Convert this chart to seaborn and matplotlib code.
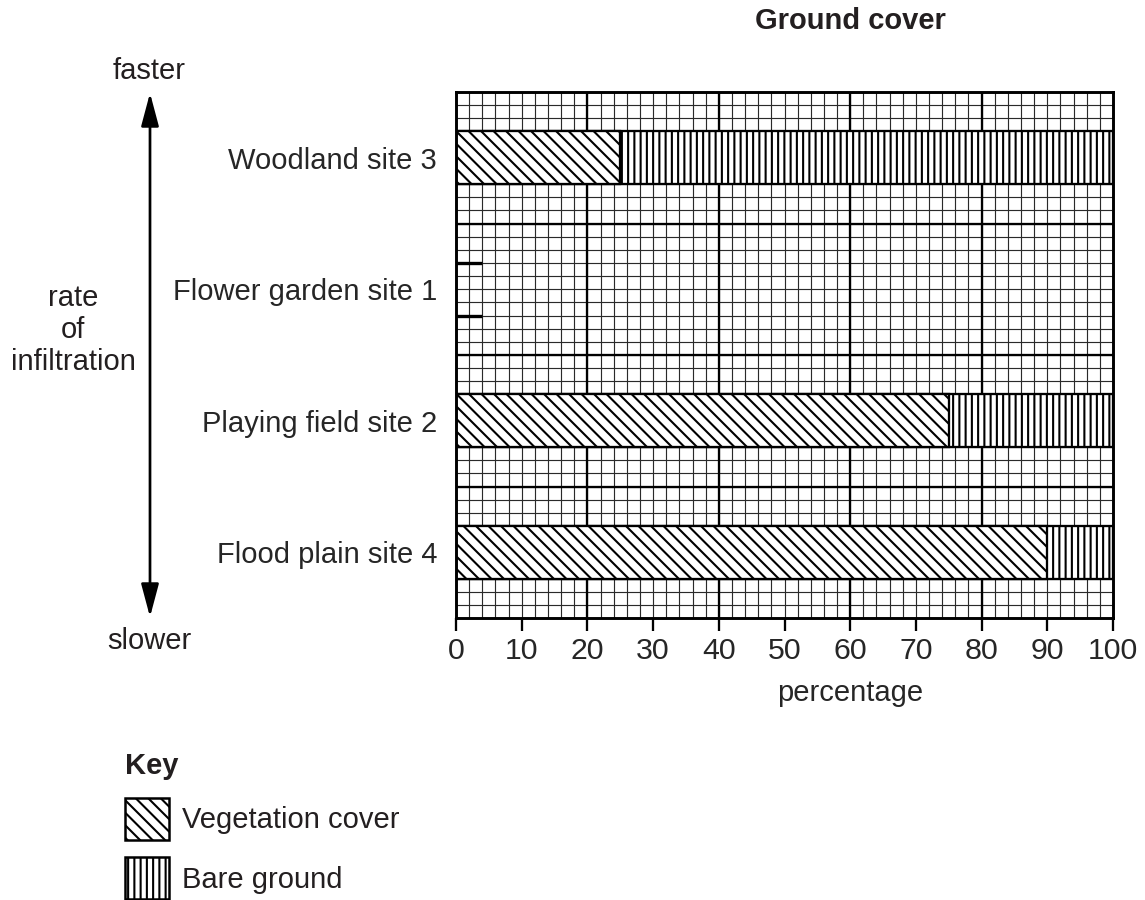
import numpy as np
import pandas as pd
import matplotlib
matplotlib.use('Agg')
import matplotlib.pyplot as plt
from matplotlib.patches import Patch
from matplotlib.ticker import MultipleLocator
import seaborn as sns

# data (flower garden bar is left blank for the student)
sites = ['Woodland site 3', 'Flower garden site 1', 'Playing field site 2', 'Flood plain site 4']
vegetation = [25, np.nan, 75, 90]
bare_ground = [75, np.nan, 25, 10]
flower_outline = 4  # short start of the flower garden bar outline
x_ticks = [0, 10, 20, 30, 40, 50, 60, 70, 80, 90, 100]

VEG_HATCH = '\\\\\\\\'
BARE_HATCH = '||||'

sns.set_style('white')
plt.rcParams['font.family'] = ['Liberation Sans', 'DejaVu Sans']
plt.rcParams['font.size'] = 14
plt.rcParams['hatch.linewidth'] = 1.0
plt.rcParams['text.color'] = '#231f20'

DPI = 150
fig = plt.figure(figsize=(1145 / DPI, 900 / DPI), dpi=DPI)
ax = fig.add_axes([456 / 1145, 1 - 618 / 900, (1113 - 456) / 1145, (618 - 92) / 900])

row_pos = np.arange(len(sites))[::-1] * 10 + 5
df = pd.DataFrame({'site': sites, 'pos': row_pos,
                   'veg': vegetation, 'bare': bare_ground})
df['total'] = df['veg'] + df['bare']
drawn = df.dropna()

# bare ground bar spans the full total, vegetation sits on top of it from 0
sns.barplot(data=drawn, x='total', y='pos', orient='h', native_scale=True,
            width=0.4, color='white', saturation=1, edgecolor='black',
            linewidth=1.1, hatch=BARE_HATCH, errorbar=None, ax=ax)
sns.barplot(data=drawn, x='veg', y='pos', orient='h', native_scale=True,
            width=0.4, color='white', saturation=1, edgecolor='black',
            linewidth=1.1, hatch=VEG_HATCH, errorbar=None, ax=ax)

# outline stub for the blank flower garden bar
fg = df[df['veg'].isna()]
for p in fg['pos']:
    ax.hlines([p - 2, p + 2], 0, flower_outline, colors='black', lw=1.6, zorder=4)

ax.set_xlim(0, 100)
ax.set_ylim(0, 40)

# graph paper
ax.set_axisbelow(True)
ax.xaxis.set_minor_locator(MultipleLocator(2))
ax.yaxis.set_minor_locator(MultipleLocator(1))
ax.xaxis.remove_overlapping_locs = False
ax.yaxis.remove_overlapping_locs = False
ax.grid(False, which='major')
ax.grid(True, which='minor', color='#2a2a2a', lw=0.55)
for v in range(20, 100, 20):
    ax.axvline(v, color='black', lw=1.1, zorder=0.6)
for h in range(10, 40, 10):
    ax.axhline(h, color='black', lw=1.1, zorder=0.6)

ax.set_xticks(x_ticks)
ax.set_xticklabels([str(t) for t in x_ticks])
ax.set_yticks(row_pos)
ax.set_yticklabels(sites)
ax.tick_params(axis='x', which='major', length=6, width=1.1, color='black',
               pad=3, labelsize=14.5, direction='out', bottom=True)
ax.tick_params(axis='y', which='major', length=0, pad=9, labelsize=14)
ax.tick_params(which='minor', length=0)
for s in ax.spines.values():
    s.set_visible(True)
    s.set_color('black')
    s.set_linewidth(1.4)

ax.set_ylabel('')
ax.set_xlabel('percentage', fontsize=14)
ax.xaxis.label.set_va('center')
ax.xaxis.set_label_coords(0.6, (618 - 693) / 526)

fig.text(850 / 1145, 1 - 21 / 900, 'Ground cover', ha='center', va='center',
         fontsize=14, weight='bold')

# rate of infiltration arrow on the left
ax.annotate('', xy=(150 / 1145, 1 - 93 / 900), xytext=(150 / 1145, 1 - 617 / 900),
            xycoords='figure fraction', textcoords='figure fraction',
            arrowprops=dict(arrowstyle='<|-|>,head_length=1.35,head_width=0.36',
                            mutation_scale=10, lw=1.3, color='black',
                            shrinkA=0, shrinkB=0))
fig.text(149 / 1145, 1 - 71 / 900, 'faster', ha='center', va='center', fontsize=14)
fig.text(149 / 1145, 1 - 641 / 900, 'slower', ha='center', va='center', fontsize=14)
fig.text(73 / 1145, 1 - 330 / 900, 'rate\nof\ninfiltration', ha='center',
         va='center', fontsize=14, multialignment='center')

handles = [Patch(facecolor='white', edgecolor='black', hatch=VEG_HATCH, lw=1.2,
                 label='Vegetation cover'),
           Patch(facecolor='white', edgecolor='black', hatch=BARE_HATCH, lw=1.2,
                 label='Bare ground')]
fig.legend(handles=handles, title='Key', loc='upper left',
           bbox_to_anchor=(125 / 1145, 1 - 752 / 900), frameon=False,
           fontsize=14, title_fontproperties={'weight': 'bold', 'size': 14},
           alignment='left', handlelength=1.5, handleheight=1.85,
           handletextpad=0.45, labelspacing=0.6, borderpad=0, borderaxespad=0)

fig.savefig('out.png', dpi=DPI)
